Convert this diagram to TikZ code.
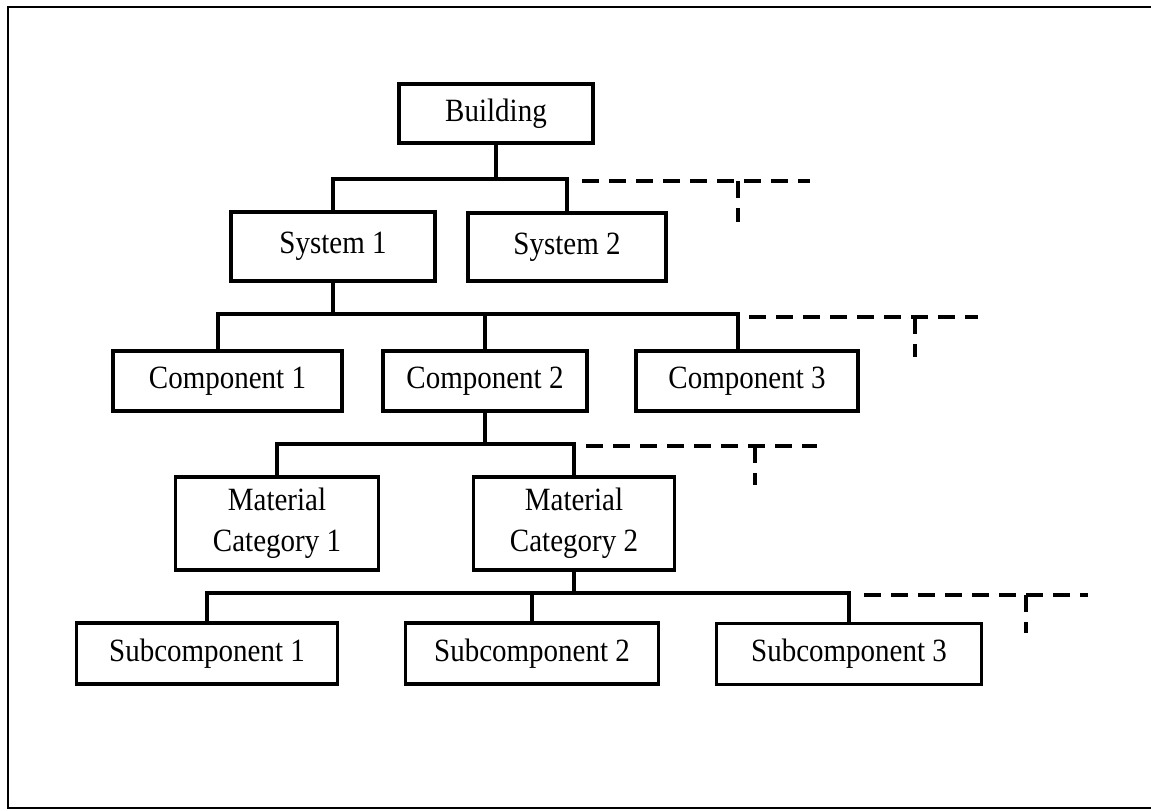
\documentclass[tikz,border=0pt]{standalone}
\usepackage{fontspec}
\setmainfont{Liberation Serif}
% slightly tall lettering
\newcommand\tallword[1]{\scalebox{1}[1.12]{#1}}
\begin{document}
\begin{tikzpicture}[x=1pt,y=-1pt,
  box/.style={draw, line width=3.3pt, inner sep=0pt, align=center,
    font=\fontsize{29}{41}\selectfont},
  link/.style={line width=3.3pt, line join=miter},
  dashlink/.style={line width=3.3pt, dash pattern=on 17pt off 10pt},
  frameline/.style={line width=2.4pt}]
\useasboundingbox (0,0) rectangle (1151,811);

% open frame (top, left, bottom)
\coordinate (ftr) at (1151,7);
\coordinate (ftl) at (8,7);
\coordinate (fbl) at (8,808);
\coordinate (fbr) at (1151,808);
\draw[frameline] (ftr) -- (ftl) -- (fbl) -- (fbr);

% level 0
\node[box, minimum width=194pt, minimum height=59pt] (bld) at (496,113.5) {\tallword{Building}};

% level 1
\node[box, minimum width=204pt, minimum height=69pt] (sys1) at (333,246.5) {\tallword{System 1}};
\node[box, minimum width=198pt, minimum height=68pt] (sys2) at (567,247) {\tallword{System 2}};

% level 2
\node[box, minimum width=229pt, minimum height=60pt] (cmp1) at (227.5,381) {\tallword{Component 1}};
\node[box, minimum width=204pt, minimum height=60pt] (cmp2) at (485,381) {\tallword{Component 2}};
\node[box, minimum width=222pt, minimum height=60pt] (cmp3) at (747,381) {\tallword{Component 3}};

% level 3
\node[box, minimum width=203pt, minimum height=93pt] (mat1) at (277,523.5) {\tallword{Material}\\\tallword{Category 1}};
\node[box, minimum width=201pt, minimum height=93pt] (mat2) at (574,523.5) {\tallword{Material}\\\tallword{Category 2}};

% level 4
\node[box, minimum width=261pt, minimum height=61pt] (sub1) at (207,653.5) {\tallword{Subcomponent 1}};
\node[box, minimum width=253pt, minimum height=61pt] (sub2) at (532,653.5) {\tallword{Subcomponent 2}};
\node[box, minimum width=265pt, minimum height=61pt] (sub3) at (849,654) {\tallword{Subcomponent 3}};

% bus heights
\coordinate (busA) at (0,179);
\coordinate (busB) at (0,314);
\coordinate (busC) at (0,444);
\coordinate (busD) at (0,593);

% dashed continuations: start, end, corner, foot
\coordinate (dA0) at (582,181);  \coordinate (dA1) at (810,181);
\coordinate (dAc) at (738,181);  \coordinate (dAe) at (738,222);
\coordinate (dB0) at (749,317);  \coordinate (dB1) at (978,317);
\coordinate (dBc) at (915,317);  \coordinate (dBe) at (915,357);
\coordinate (dC0) at (586,446);  \coordinate (dC1) at (817,446);
\coordinate (dCc) at (755,446);  \coordinate (dCe) at (755,485);
\coordinate (dD0) at (864,595);  \coordinate (dD1) at (1088,595);
\coordinate (dDc) at (1026,595); \coordinate (dDe) at (1026,633);

% drop points of the component row
\coordinate (cmp1in) at ([xshift=-9.5pt]cmp1.north);
\coordinate (cmp3in) at ([xshift=-9pt]cmp3.north);

% building -> systems
\draw[link] (bld.south) -- (bld.south |- busA);
\draw[link] (sys1.north) -- (sys1.north |- busA) -- (sys2.north |- busA) -- (sys2.north);
\draw[dashlink] (dA0) -- (dA1);
\draw[dashlink] (dAc) -- (dAe);

% system 1 -> components
\draw[link] (sys1.south) -- (sys1.south |- busB);
\draw[link] (cmp1in) -- (cmp1in |- busB) -- (cmp3in |- busB) -- (cmp3in);
\draw[link] (cmp2.north) -- (cmp2.north |- busB);
\draw[dashlink] (dB0) -- (dB1);
\draw[dashlink] (dBc) -- (dBe);

% component 2 -> material categories
\draw[link] (cmp2.south) -- (cmp2.south |- busC);
\draw[link] (mat1.north) -- (mat1.north |- busC) -- (mat2.north |- busC) -- (mat2.north);
\draw[dashlink] (dC0) -- (dC1);
\draw[dashlink] (dCc) -- (dCe);

% material category 2 -> subcomponents
\draw[link] (mat2.south) -- (mat2.south |- busD);
\draw[link] (sub1.north) -- (sub1.north |- busD) -- (sub3.north |- busD) -- (sub3.north);
\draw[link] (sub2.north) -- (sub2.north |- busD);
\draw[dashlink] (dD0) -- (dD1);
\draw[dashlink] (dDc) -- (dDe);
\end{tikzpicture}
\end{document}
